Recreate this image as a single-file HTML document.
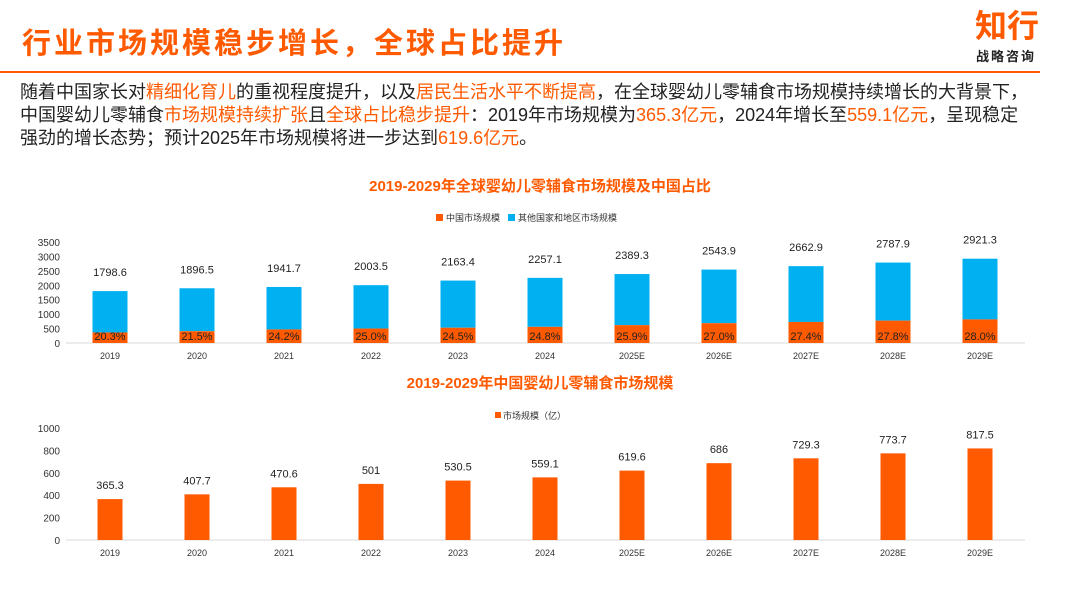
<!DOCTYPE html>
<html><head><meta charset="utf-8">
<style>
body{margin:0;width:1067px;height:600px;background:#fff;font-family:"Liberation Sans","Noto Sans CJK SC",sans-serif;overflow:hidden;position:relative}
.t{position:absolute;white-space:nowrap}
.o{color:#FF5A00}
</style></head><body>
<div class="t" style="left:22px;top:20px;font-size:29px;letter-spacing:3px;font-weight:bold;color:#FF5A00">行业市场规模稳步增长，全球占比提升</div>
<div class="t" style="left:975px;top:8px;font-size:32px;font-weight:bold;color:#FF5A00;line-height:36px">知行</div>
<div class="t" style="left:976px;top:46px;font-size:13px;font-weight:bold;color:#222;letter-spacing:2px">战略咨询</div>
<div style="position:absolute;left:0;top:71px;width:1040px;height:2px;background:#FF5A00"></div>
<div style="position:absolute;left:20px;top:81px;width:1040px;font-size:18px;line-height:23px;color:#222">随着中国家长对<span class="o">精细化育儿</span>的重视程度提升，以及<span class="o">居民生活水平不断提高</span>，在全球婴幼儿零辅食市场规模持续增长的大背景下，<br>中国婴幼儿零辅食<span class="o">市场规模持续扩张</span>且<span class="o">全球占比稳步提升</span>：2019年市场规模为<span class="o">365.3亿元</span>，2024年增长至<span class="o">559.1亿元</span>，呈现稳定<br>强劲的增长态势；预计2025年市场规模将进一步达到<span class="o">619.6亿元</span>。</div>
<svg id="c" width="1067" height="600" style="position:absolute;left:0;top:0" font-family="Liberation Sans, Noto Sans CJK SC, sans-serif"></svg>
<script>
const years=["2019","2020","2021","2022","2023","2024","2025E","2026E","2027E","2028E","2029E"];
const globalTotal=[1798.6,1896.5,1941.7,2003.5,2163.4,2257.1,2389.3,2543.9,2662.9,2787.9,2921.3];
const chinaShare=[20.3,21.5,24.2,25.0,24.5,24.8,25.9,27.0,27.4,27.8,28.0];
const chinaMarket=[365.3,407.7,470.6,501,530.5,559.1,619.6,686,729.3,773.7,817.5];
const topTicks=[0,500,1000,1500,2000,2500,3000,3500];
const botTicks=[0,200,400,600,800,1000];
const svg=document.getElementById('c');
const NS='http://www.w3.org/2000/svg';
function mk(tag,attrs,txt){const e=document.createElementNS(NS,tag);for(const k in attrs)e.setAttribute(k,attrs[k]);if(txt!=null)e.textContent=txt;svg.appendChild(e);return e;}
const xC=i=>110+i*87;
const yT=v=>343-v*(101/3500);
const yB=v=>540-v*(112/1000);
const OR='#FF5A00',BL='#00B0F0';
let e=mk('text',{x:540,y:191,'text-anchor':'middle','font-size':15,'font-weight':'bold',fill:OR},'2019-2029年全球婴幼儿零辅食市场规模及中国占比');

e=mk('rect',{x:436,y:214,width:7,height:7,fill:OR});
e=mk('text',{x:446,y:221,'font-size':9,fill:'#333'},'中国市场规模');
e=mk('rect',{x:508,y:214,width:7,height:7,fill:BL});
e=mk('text',{x:518,y:221,'font-size':9,fill:'#333'},'其他国家和地区市场规模');
topTicks.forEach(t=>{const l=mk('text',{x:60,y:yT(t)+4,'text-anchor':'end','font-size':10,fill:'#333'},t);});
e=mk('line',{x1:66,x2:1025,y1:yT(0),y2:yT(0),stroke:'#d9d9d9'});
years.forEach((y,i)=>{
 const tot=globalTotal[i],ch=tot*chinaShare[i]/100,x=xC(i)-17.5;
 let b=mk('rect',{x:x,y:yT(tot),width:35,height:yT(ch)-yT(tot),fill:BL});
 b=mk('rect',{x:x,y:yT(ch),width:35,height:yT(0)-yT(ch),fill:OR});
 let t=mk('text',{x:xC(i),y:yT(tot)-15,'text-anchor':'middle','font-size':11,fill:'#222'},tot.toFixed(1));
 t=mk('text',{x:xC(i),y:yT(0)-3,'text-anchor':'middle','font-size':11,fill:'#222'},chinaShare[i].toFixed(1)+'%');
 t=mk('text',{x:xC(i),y:359,'text-anchor':'middle','font-size':9,fill:'#333'},y);
});
e=mk('text',{x:540,y:388,'text-anchor':'middle','font-size':15,'font-weight':'bold',fill:OR},'2019-2029年中国婴幼儿零辅食市场规模');

e=mk('rect',{x:495,y:412,width:6,height:6,fill:OR});
e=mk('text',{x:503,y:419,'font-size':9,fill:'#333'},'市场规模（亿）');
botTicks.forEach(t=>{const l=mk('text',{x:60,y:yB(t)+4,'text-anchor':'end','font-size':10,fill:'#333'},t);});
e=mk('line',{x1:66,x2:1025,y1:yB(0),y2:yB(0),stroke:'#d9d9d9'});
years.forEach((y,i)=>{
 const v=chinaMarket[i];
 let b=mk('rect',{x:xC(i)-12.5,y:yB(v),width:25,height:yB(0)-yB(v),fill:OR});
 let t=mk('text',{x:xC(i),y:yB(v)-10,'text-anchor':'middle','font-size':11,fill:'#222'},String(v));
 t=mk('text',{x:xC(i),y:556,'text-anchor':'middle','font-size':9,fill:'#333'},y);
});
</script>
</body></html>
